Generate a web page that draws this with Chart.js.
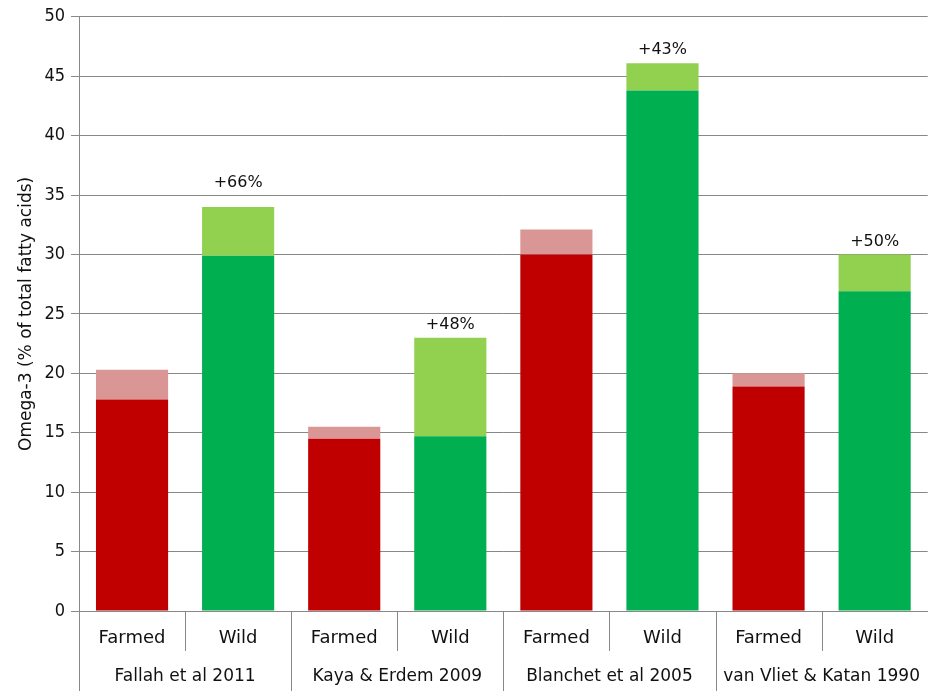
<!DOCTYPE html>
<html>
<head>
<meta charset="utf-8">
<script src="https://cdn.jsdelivr.net/npm/chart.js@4.4.1/dist/chart.umd.min.js"></script>
<style>
  html, body { margin: 0; padding: 0; background: #fff; }
  #wrap { width: 928px; height: 695px; }
</style>
</head>
<body>
<div id="wrap"><canvas id="chart"></canvas></div>
<script>
// Omega-3 data
const barLabels = ['Farmed', 'Wild', 'Farmed', 'Wild', 'Farmed', 'Wild', 'Farmed', 'Wild'];
const studies = ['Fallah et al 2011', 'Kaya & Erdem 2009', 'Blanchet et al 2005', 'van Vliet & Katan 1990'];
const baseValues = [17.8, 29.9, 14.5, 14.7, 30.0, 43.8, 18.9, 26.9];
const totalValues = [20.3, 34.0, 15.5, 23.0, 32.1, 46.1, 20.0, 30.0];
const gainLabels = ['', '+66%', '', '+48%', '', '+43%', '', '+50%'];
const yTicks = [0, 5, 10, 15, 20, 25, 30, 35, 40, 45, 50];

const extraValues = totalValues.map((t, i) => +(t - baseValues[i]).toFixed(2));
const darkColors = barLabels.map(l => l === 'Farmed' ? '#C00000' : '#00B050');
const lightColors = barLabels.map(l => l === 'Farmed' ? '#D99694' : '#92D050');

const FONT = "'DejaVu Sans', 'Open Sans', sans-serif";
const FONT_NARROW = "'DejaVu Sans Condensed', 'DejaVu Sans', sans-serif";

// separators under the x axis and the +% labels
const extrasPlugin = {
    id: 'extras',
    afterDraw(chart) {
        const ctx = chart.ctx;
        const x = chart.scales.x;
        const bottom = chart.chartArea.bottom;
        ctx.save();
        ctx.strokeStyle = '#888';
        ctx.lineWidth = 1;
        for (let i = 0; i <= barLabels.length; i++) {
            const px = Math.round(x.getPixelForValue(i - 0.5)) + 0.5;
            const len = i % 2 === 0 ? 80 : 40;
            ctx.beginPath();
            ctx.moveTo(px, bottom);
            ctx.lineTo(px, bottom + len);
            ctx.stroke();
        }
        const meta = chart.getDatasetMeta(1);
        ctx.fillStyle = '#111';
        ctx.font = '16px ' + FONT;
        ctx.textAlign = 'center';
        ctx.textBaseline = 'bottom';
        gainLabels.forEach((txt, i) => {
            if (!txt) return;
            const bar = meta.data[i];
            // the first note sits a little higher in the original
            ctx.fillText(txt, bar.x, bar.y - (i === 1 ? 16 : 5));
        });
        ctx.restore();
    }
};

new Chart(document.getElementById('chart').getContext('2d'), {
    type: 'bar',
    data: {
        labels: barLabels,
        datasets: [
            {
                label: 'base',
                data: baseValues,
                backgroundColor: darkColors,
                categoryPercentage: 1,
                barPercentage: 0.68
            },
            {
                label: 'extra',
                data: extraValues,
                backgroundColor: lightColors,
                categoryPercentage: 1,
                barPercentage: 0.68
            }
        ]
    },
    options: {
        responsive: true,
        maintainAspectRatio: false,
        animation: false,
        layout: { padding: { top: 8, right: 0, left: 16, bottom: 0 } },
        plugins: {
            legend: { display: false },
            tooltip: { enabled: false }
        },
        scales: {
            x: {
                stacked: true,
                grid: { display: false },
                border: { display: true, color: '#888' },
                ticks: { color: '#111', font: { family: FONT, size: 18 }, padding: 9, maxRotation: 0, autoSkip: false }
            },
            x2: {
                type: 'category',
                position: 'bottom',
                labels: studies,
                grid: { display: false, drawTicks: false },
                border: { display: false },
                ticks: { color: '#111', font: { family: FONT, size: 17 }, padding: 8, maxRotation: 0, minRotation: 0, autoSkip: false }
            },
            y: {
                stacked: true,
                min: 0,
                max: 50,
                afterBuildTicks(scale) {
                    scale.ticks = yTicks.map(v => ({ value: v }));
                },
                grid: { color: '#888', tickLength: 8 },
                border: { display: true, color: '#888' },
                ticks: { color: '#111', font: { family: FONT_NARROW, size: 18 }, padding: 6 },
                title: {
                    display: true,
                    text: 'Omega-3 (% of total fatty acids)',
                    color: '#111',
                    font: { family: FONT, size: 17 },
                    padding: { top: 0, bottom: 2 }
                }
            }
        }
    },
    plugins: [extrasPlugin]
});
</script>
</body>
</html>
